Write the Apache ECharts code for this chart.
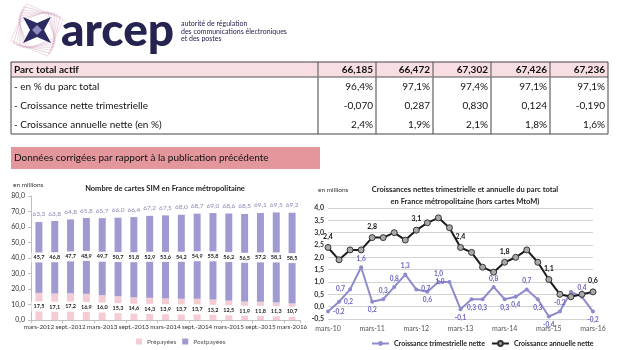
<!DOCTYPE html>
<html>
<head>
<meta charset="utf-8">
<script src="https://cdn.jsdelivr.net/npm/echarts@6/dist/echarts.min.js"></script>
<style>
  html, body { margin: 0; padding: 0; background: #fff; }
  #main { width: 620px; height: 350px; }
</style>
</head>
<body>
<div id="main"></div>
<script>
// table
const tableRows = ['Parc total actif', '- en % du parc total', '- Croissance nette trimestrielle', '- Croissance annuelle nette (en %)']
const tableCells = [
  ['66,185', '66,472', '67,302', '67,426', '67,236'],
  ['96,4%', '97,1%', '97,4%', '97,1%', '97,1%'],
  ['-0,070', '0,287', '0,830', '0,124', '-0,190'],
  ['2,4%', '1,9%', '2,1%', '1,8%', '1,6%']
]

// cartes SIM (en millions)
const simQuarters = [
  'mars-2012', 'juin-2012', 'sept.-2012', 'déc.-2012',
  'mars-2013', 'juin-2013', 'sept.-2013', 'déc.-2013',
  'mars-2014', 'juin-2014', 'sept.-2014', 'déc.-2014',
  'mars-2015', 'juin-2015', 'sept.-2015', 'déc.-2015',
  'mars-2016'
]
const prepaid = [17.5, 17.1, 17.2, 16.9, 16.0, 15.3, 14.6, 14.3, 13.9, 13.7, 13.7, 13.2, 12.5, 11.9, 11.8, 11.3, 10.7]
const postpaid = [45.7, 46.8, 47.7, 48.9, 49.7, 50.7, 51.8, 52.9, 53.6, 54.2, 54.9, 55.8, 56.2, 56.5, 57.2, 58.1, 58.5]
const totals = [63.3, 63.8, 64.8, 65.8, 65.7, 66.0, 66.4, 67.2, 67.5, 68.0, 68.7, 69.0, 68.6, 68.5, 69.1, 69.5, 69.2]

// croissances nettes (en millions)
const growthQuarters = [
  'mars-10', 'juin-10', 'sept.-10', 'déc.-10',
  'mars-11', 'juin-11', 'sept.-11', 'déc.-11',
  'mars-12', 'juin-12', 'sept.-12', 'déc.-12',
  'mars-13', 'juin-13', 'sept.-13', 'déc.-13',
  'mars-14', 'juin-14', 'sept.-14', 'déc.-14',
  'mars-15', 'juin-15', 'sept.-15', 'déc.-15',
  'mars-16'
]
const quarterly = [-0.2, 0.2, 0.7, 1.6, 0.2, 0.3, 0.8, 1.3, 0.7, 0.6, 1.0, 1.0, -0.1, 0.3, 0.3, 0.8, 0.3, 0.4, 0.7, 0.3, -0.4, -0.2, 0.6, 0.4, -0.2]
const annual = [2.4, 1.9, 2.3, 2.3, 2.8, 2.8, 3.0, 2.7, 3.1, 3.4, 3.6, 3.2, 2.4, 2.2, 1.6, 1.4, 1.8, 2.0, 2.3, 1.8, 1.1, 0.5, 0.4, 0.5, 0.6]

// where each quarterly label sits (null = hidden)
const qLabelPos = ['right', 'right', 'left', 'top', 'bottom', 'top', 'top', 'top', 'right', 'bottom', 'top', 'left', 'bottom',
  'bottom', 'bottom', 'top', 'bottom', 'bottom', 'top', 'bottom', 'bottom', 'top', null, 'top', 'bottom']

const NAVY = '#25234f'
const FONT = 'Lato, "Open Sans", sans-serif'
const fmt = v => v.toFixed(1).replace('.', ',')

function txt(x, y, text, size, opts) {
  opts = opts || {}
  return {
    type: 'text',
    x: x,
    y: y,
    silent: true,
    style: {
      text: text,
      font: (opts.weight || 'normal') + ' ' + size + 'px ' + FONT,
      fill: opts.color || '#111',
      textAlign: opts.align || 'left',
      align: opts.align || 'left',
      textVerticalAlign: 'middle',
      verticalAlign: 'middle'
    }
  }
}

function line(x1, y1, x2, y2, color, w) {
  return {
    type: 'line',
    silent: true,
    shape: { x1: x1, y1: y1, x2: x2, y2: y2 },
    style: { stroke: color, lineWidth: w }
  }
}

const graphics = []

// logo
for (let i = 0; i < 7; i++) {
  graphics.push({
    type: 'rect', silent: true, x: 37, y: 30, originX: 0, originY: 0,
    rotation: i * 0.13 - 0.4,
    shape: { x: -20 + i, y: -20 + i, width: 40 - 2 * i, height: 40 - 2 * i },
    style: { fill: 'none', stroke: i % 2 ? '#c9a9c8' : '#e6b9c6', lineWidth: 0.6, opacity: 0.8 }
  })
}
graphics.push({
  type: 'polygon', silent: true,
  shape: { points: [[23, 17], [37, 23], [51, 17], [44, 30], [51, 43], [37, 37], [23, 43], [30, 30]] },
  style: { fill: '#2c2a62' }
})
graphics.push({
  type: 'polygon', silent: true,
  shape: { points: [[37, 25], [42, 30], [37, 35], [32, 30]] },
  style: { fill: '#8e8abf' }
})
graphics.push(txt(61, 31, 'arcep', 46, { weight: '900', color: NAVY }))
graphics.push(txt(181, 24, 'autorité de régulation', 7, { color: NAVY }))
graphics.push(txt(181, 31.5, 'des communications électroniques', 7, { color: NAVY }))
graphics.push(txt(181, 39, 'et des postes', 7, { color: NAVY }))

// table
const tLeft = 11, tRight = 608, tTop = 62, tHead = 77, tBottom = 134
const colEdges = [318, 376, 433, 491, 550, 608]
const rowY = [69.5, 87, 106, 125]
graphics.push({
  type: 'rect', silent: true,
  shape: { x: tLeft, y: tTop, width: tRight - tLeft, height: tHead - tTop },
  style: { fill: '#f8dee2' }
})
graphics.push(line(tLeft, tHead, tRight, tHead, '#555', 1))
colEdges.slice(0, 5).forEach(x => graphics.push(line(x, tTop, x, tBottom, '#808080', 1.5)))
graphics.push({
  type: 'rect', silent: true,
  shape: { x: tLeft, y: tTop, width: tRight - tLeft, height: tBottom - tTop },
  style: { fill: 'none', stroke: '#444', lineWidth: 1 }
})
tableRows.forEach((label, r) => {
  graphics.push(txt(14, rowY[r], label, 10, { weight: r === 0 ? 'bold' : 'normal' }))
  tableCells[r].forEach((cell, c) => {
    graphics.push(txt(colEdges[c + 1] - 3, rowY[r], cell, 10, { weight: r === 0 ? 'bold' : 'normal', align: 'right' }))
  })
})

// banner
graphics.push({
  type: 'rect', silent: true,
  shape: { x: 11, y: 147, width: 309, height: 22 },
  style: { fill: '#e3979d' }
})
graphics.push(txt(14, 158, 'Données corrigées par rapport à la publication précédente', 10))

// unit captions
graphics.push(txt(13, 185, 'en millions', 6.5, { color: '#333' }))
graphics.push(txt(318, 190, 'en millions', 6.5, { color: '#333' }))

const chart = echarts.init(document.getElementById('main'))

chart.setOption({
  animation: false,
  textStyle: { fontFamily: FONT },
  graphic: graphics,
  title: [
    {
      text: 'Nombre de cartes SIM en France métropolitaine',
      left: 160,
      top: 180,
      textAlign: 'center',
      textStyle: { fontSize: 7.5, fontWeight: 'bold', color: '#222', fontFamily: FONT }
    },
    {
      text: 'Croissances nettes trimestrielle et annuelle du parc total\nen France métropolitaine (hors cartes MtoM)',
      left: 460,
      top: 179,
      textAlign: 'center',
      textStyle: { fontSize: 7.5, fontWeight: 'bold', color: '#222', lineHeight: 12, fontFamily: FONT }
    }
  ],
  legend: [
    {
      data: ['Prépayées', 'Postpayées'],
      left: 131,
      top: 333,
      icon: 'rect',
      itemWidth: 6,
      itemHeight: 6,
      itemGap: 6,
      itemTextGap: 3,
      textStyle: { fontSize: 6.5, color: '#555' }
    },
    {
      data: ['Croissance trimestrielle nette', 'Croissance annuelle nette'],
      left: 366,
      top: 335,
      itemWidth: 17,
      itemHeight: 6,
      itemGap: 6,
      itemTextGap: 2,
      textStyle: { fontSize: 7, fontWeight: 'bold', color: '#222' }
    }
  ],
  grid: [
    { left: 31, top: 196, width: 269, height: 124 },
    { left: 328, top: 208, width: 265, height: 111 }
  ],
  xAxis: [
    {
      type: 'category',
      gridIndex: 0,
      data: simQuarters,
      axisLine: { lineStyle: { color: '#bfbfbf' } },
      axisTick: { show: true, length: 3, lineStyle: { color: '#bfbfbf' } },
      axisLabel: {
        interval: 1,
        showMinLabel: true,
        showMaxLabel: true,
        hideOverlap: false,
        fontSize: 6.3,
        color: '#333',
        margin: 4
      }
    },
    {
      type: 'category',
      gridIndex: 1,
      data: growthQuarters,
      boundaryGap: false,
      axisLine: { show: false },
      axisTick: { show: false },
      axisLabel: { interval: 3, showMinLabel: true, showMaxLabel: true, fontSize: 7, color: '#555', margin: 6 }
    }
  ],
  yAxis: [
    {
      type: 'value',
      gridIndex: 0,
      min: 0,
      max: 80,
      interval: 10,
      axisLine: { show: true, lineStyle: { color: '#bfbfbf' } },
      axisTick: { show: true, length: 3, lineStyle: { color: '#bfbfbf' } },
      splitLine: { show: false },
      axisLabel: { fontSize: 7, color: '#333', margin: 6, formatter: fmt }
    },
    {
      type: 'value',
      gridIndex: 1,
      min: -0.5,
      max: 4,
      interval: 0.5,
      axisLine: { show: false },
      axisTick: { show: false },
      splitLine: { lineStyle: { color: '#d4d4d4', width: 1 } },
      axisLabel: { fontSize: 7, fontWeight: 'bold', color: '#333', margin: 4, formatter: fmt }
    }
  ],
  series: [
    {
      name: 'Prépayées',
      type: 'bar',
      stack: 'sim',
      xAxisIndex: 0,
      yAxisIndex: 0,
      barWidth: 7,
      data: prepaid,
      itemStyle: { color: '#f5ccd4' },
      label: {
        show: true,
        position: 'inside',
        formatter: p => fmt(p.value),
        backgroundColor: '#fff',
        padding: [2, 2],
        color: '#222',
        fontSize: 5.5,
        fontWeight: 'bold'
      }
    },
    {
      name: 'Postpayées',
      type: 'bar',
      stack: 'sim',
      xAxisIndex: 0,
      yAxisIndex: 0,
      barWidth: 7,
      data: postpaid,
      itemStyle: { color: '#9f9bd2' },
      label: {
        show: true,
        position: 'inside',
        formatter: p => fmt(p.value),
        backgroundColor: '#fff',
        padding: [2, 2],
        color: '#222',
        fontSize: 5.5,
        fontWeight: 'bold'
      }
    },
    {
      name: 'Total',
      type: 'scatter',
      xAxisIndex: 0,
      yAxisIndex: 0,
      symbolSize: 0,
      silent: true,
      data: totals,
      label: {
        show: true,
        position: 'top',
        distance: 4,
        formatter: p => fmt(p.value),
        color: '#6e6b9f',
        fontSize: 6.5
      }
    },
    {
      name: 'Croissance trimestrielle nette',
      type: 'line',
      xAxisIndex: 1,
      yAxisIndex: 1,
      data: quarterly.map((v, i) => ({
        value: v,
        label: qLabelPos[i] ? { position: qLabelPos[i] } : { show: false }
      })),
      symbol: 'circle',
      symbolSize: 4,
      lineStyle: { color: '#8e8bcd', width: 2 },
      itemStyle: { color: '#8e8bcd' },
      label: {
        show: true,
        formatter: p => fmt(p.value),
        color: '#6763c2',
        fontSize: 6.5,
        fontWeight: 'bold',
        distance: 3
      },
      z: 3
    },
    {
      name: 'Croissance annuelle nette',
      type: 'line',
      xAxisIndex: 1,
      yAxisIndex: 1,
      data: annual,
      symbol: 'circle',
      symbolSize: 6,
      lineStyle: { color: '#1c1c1c', width: 2 },
      itemStyle: { color: '#a9a9a9', borderColor: '#333', borderWidth: 1 },
      label: {
        show: true,
        position: 'top',
        distance: 4,
        formatter: p => (p.dataIndex % 4 === 0 ? fmt(p.value) : ''),
        color: '#111',
        fontSize: 7,
        fontWeight: 'bold'
      },
      z: 4
    }
  ]
})
</script>
</body>
</html>
